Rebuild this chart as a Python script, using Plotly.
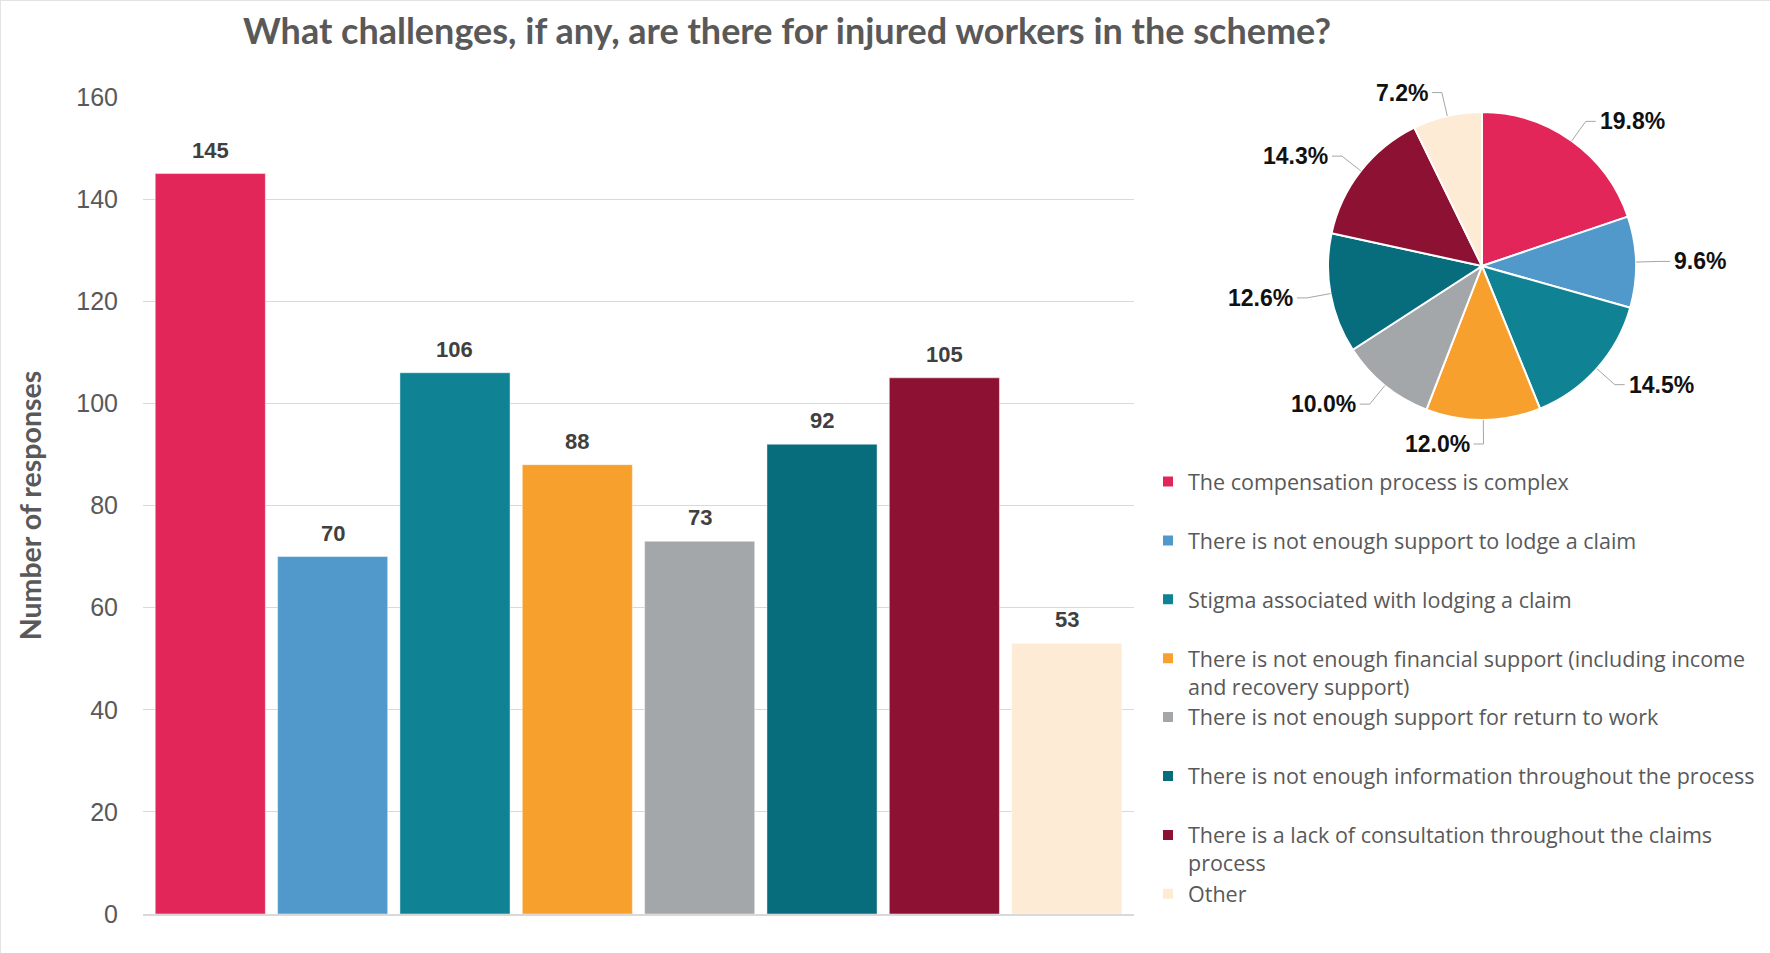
import math
import plotly.graph_objects as go

# Survey responses: challenges for injured workers in the scheme
categories = [
    "The compensation process is complex",
    "There is not enough support to lodge a claim",
    "Stigma associated with lodging a claim",
    "There is not enough financial support (including income<br>and recovery support)",
    "There is not enough support for return to work",
    "There is not enough information throughout the process",
    "There is a lack of consultation throughout the claims<br>process",
    "Other",
]
responses = [145, 70, 106, 88, 73, 92, 105, 53]
colors = ["#E3265A", "#5199CB", "#0F8394", "#F8A02E",
          "#A4A7A9", "#076D7C", "#8D1133", "#FDEBD5"]
y_ticks = [0, 20, 40, 60, 80, 100, 120, 140, 160]

W, H = 1770, 953
GREY = "#595959"


def px_x(x):
    return x / W


def px_y(y):
    return 1 - y / H


# Pie geometry (pixels)
pie_cx, pie_cy, pie_r = 1482, 266, 154

fig = go.Figure()

fig.add_trace(go.Bar(
    x=list(range(len(categories))),
    y=responses,
    marker=dict(color=colors, line=dict(color="rgba(255,255,255,0.45)", width=1)),
    width=0.9,
    showlegend=False,
    hoverinfo="y",
))

# Legend entries padded to two lines so every entry takes the same height
legend_labels = [c if "<br>" in c else c + "<br> " for c in categories]

fig.add_trace(go.Pie(
    labels=legend_labels,
    values=responses,
    sort=False,
    direction="clockwise",
    rotation=0,
    marker=dict(colors=colors, line=dict(color="white", width=2)),
    textinfo="none",
    hoverinfo="label+percent",
    domain=dict(x=[px_x(pie_cx - pie_r), px_x(pie_cx + pie_r)],
                y=[px_y(pie_cy + pie_r), px_y(pie_cy - pie_r)]),
))

annotations = []
shapes = []

# Value labels above the bars
for i, v in enumerate(responses):
    annotations.append(dict(
        x=i, y=v, xref="x", yref="y", text=str(v), showarrow=False,
        yanchor="bottom", yshift=9,
        font=dict(family="Liberation Sans, Arial", size=22, color="#404040", weight="bold"),
    ))

# Percentage labels with leader lines around the pie
total = sum(responses)
cum = 0
gap, elbow = 24, 10
for v in responses:
    theta = 2 * math.pi * (cum + v / 2) / total
    cum += v
    ux, uy = math.sin(theta), -math.cos(theta)
    ex, ey = pie_cx + pie_r * ux, pie_cy + pie_r * uy
    bx, by = pie_cx + (pie_r + gap) * ux, pie_cy + (pie_r + gap) * uy
    side = 1 if ux > 0.02 else -1
    hx = bx + side * elbow
    shapes.append(dict(
        type="path", xref="paper", yref="paper",
        path=f"M {px_x(ex)} {px_y(ey)} L {px_x(bx)} {px_y(by)} L {px_x(hx)} {px_y(by)}",
        line=dict(color="#A6A6A6", width=1),
    ))
    annotations.append(dict(
        x=px_x(hx + side * 2), y=px_y(by), xref="paper", yref="paper",
        text=f"{100 * v / total:.1f}%", showarrow=False,
        xanchor="left" if side > 0 else "right", yanchor="middle",
        font=dict(family="Liberation Sans, Arial", size=23, color="#111111", weight="bold"),
    ))

# Faint frame on the left and top edges
shapes.append(dict(type="line", xref="paper", yref="paper", x0=0, x1=0, y0=0, y1=1,
                   line=dict(color="#E3E3E3", width=2)))
shapes.append(dict(type="line", xref="paper", yref="paper", x0=0, x1=1, y0=1, y1=1,
                   line=dict(color="#E3E3E3", width=2)))

fig.update_layout(
    width=W, height=H,
    margin=dict(l=0, r=0, t=0, b=0),
    paper_bgcolor="white", plot_bgcolor="white",
    title=dict(
        text="What challenges, if any, are there for injured workers in the scheme?",
        x=px_x(787), xanchor="center", xref="paper",
        y=px_y(31), yanchor="middle", yref="container",
        font=dict(family="Lato, Open Sans, sans-serif", size=36, color=GREY, weight="bold"),
    ),
    xaxis=dict(
        domain=[px_x(143), px_x(1134)],
        range=[-0.55, 7.55],
        showticklabels=False, showgrid=False, zeroline=False,
        showline=True, linecolor="#D9D9D9", linewidth=2,
        fixedrange=True,
    ),
    yaxis=dict(
        domain=[px_y(914), px_y(97)],
        range=[0, 160],
        tickvals=y_ticks,
        showgrid=True, gridcolor="#D9D9D9", gridwidth=1,
        zeroline=False, showline=False,
        ticks="", ticklabelstandoff=24,
        tickfont=dict(family="Liberation Sans, Arial", size=25, color=GREY),
        title=dict(text="Number of responses", standoff=26,
                   font=dict(family="Lato, Open Sans, sans-serif", size=28.5, color=GREY, weight="bold")),
        automargin=False,
    ),
    legend=dict(
        x=px_x(1148), y=px_y(461), xanchor="left", yanchor="top",
        font=dict(family="Open Sans, Lato, sans-serif", size=21.5, color=GREY),
        valign="top", tracegroupgap=0, itemclick=False,
    ),
    annotations=annotations,
    shapes=shapes,
    bargap=0.1,
)

fig.write_html("out.html")
